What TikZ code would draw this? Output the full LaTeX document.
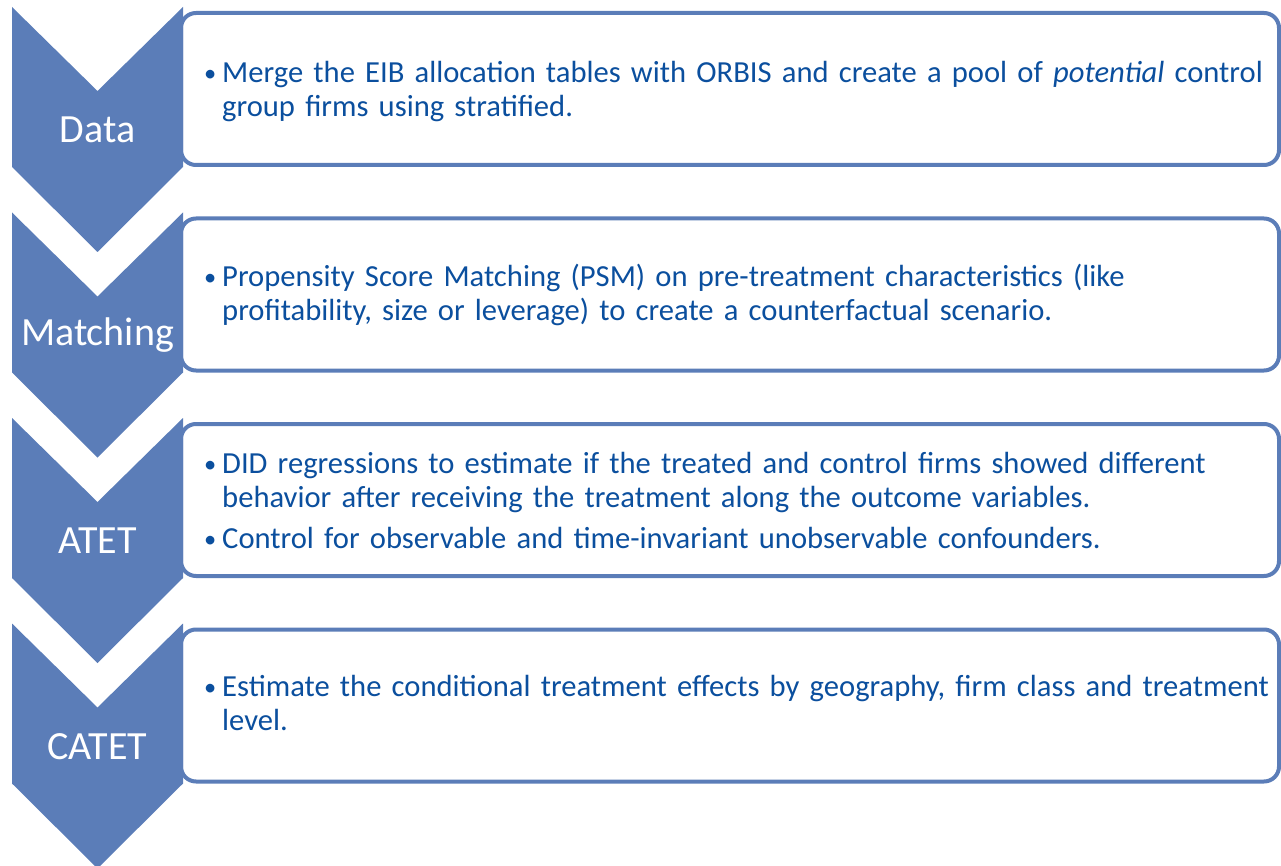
\documentclass[tikz,border=0pt]{standalone}
\usepackage{fontspec}
\setmainfont{Carlito}
\usetikzlibrary{positioning, calc}
\definecolor{chev}{HTML}{5B7DB8}
\definecolor{inkblue}{HTML}{0B4F9E}
\tikzset{
  font=\rmfamily,
  %
  chevfill/.style={fill=chev, draw=none},
  stepbox/.style={draw=chev, line width=4pt, rounded corners=15pt, fill=white},
  %
  steplbl/.style={text=white, font=\fontsize{40}{44}\selectfont, inner sep=0pt},
  body/.style={text=inkblue, font=\fontsize{30.6}{34}\selectfont, anchor=west,
               text width=1120pt, align=left, inner sep=0pt},
}
\newcommand{\bulpar}[1]{\par\hangindent=18pt\hangafter=1\noindent
  \makebox[18pt][l]{\raisebox{1pt}{\scalebox{0.8}{\textbullet}}}#1\par}

\begin{document}
\begin{tikzpicture}[x=1pt, y=-1pt]

  \useasboundingbox (0,0) rectangle (1281,866);

  % boxes first, chevrons on top of their left edge
  \foreach \y in {7, 212.5, 418, 623.5} {
    \draw[stepbox] (181,{\y+6}) rectangle (1279,{\y+158});
    \fill[chevfill] (12,\y) -- (97.5,{\y+84}) -- (183,\y) -- (183,{\y+160})
      -- (97.5,{\y+245}) -- (12,{\y+160}) -- cycle;
  }

  % chevron labels
  \node[steplbl] (data)  at (97.5,130)   {Data};
  \node[steplbl] (match) at (97.5,335.5) {Matching};
  \node[steplbl] (atet)  at (97.5,541)   {ATET};
  \node[steplbl] (catet) at (97.5,746.5) {CATET};

  % step descriptions
  \node[body] (datatxt) at (204,85)
    {\bulpar{Merge the EIB allocation tables with ORBIS and create a pool of \textit{potential} control\newline
     group firms using stratified.}};
  \node[body] (matchtxt) at (204,289)
    {\bulpar{Propensity Score Matching (PSM) on pre-treatment characteristics (like\newline
     profitability, size or leverage) to create a counterfactual scenario.}};
  \node[body] (atettxt) at (204,494)
    {\bulpar{DID regressions to estimate if the treated and control firms showed different\newline
     behavior after receiving the treatment along the outcome variables.}
     \vspace{7pt}
     \bulpar{Control for observable and time-invariant unobservable confounders.}};
  \node[body] (catettxt) at (204,697)
    {\bulpar{Estimate the conditional treatment effects by geography, firm class and treatment\newline
     level.}};

\end{tikzpicture}
\end{document}
